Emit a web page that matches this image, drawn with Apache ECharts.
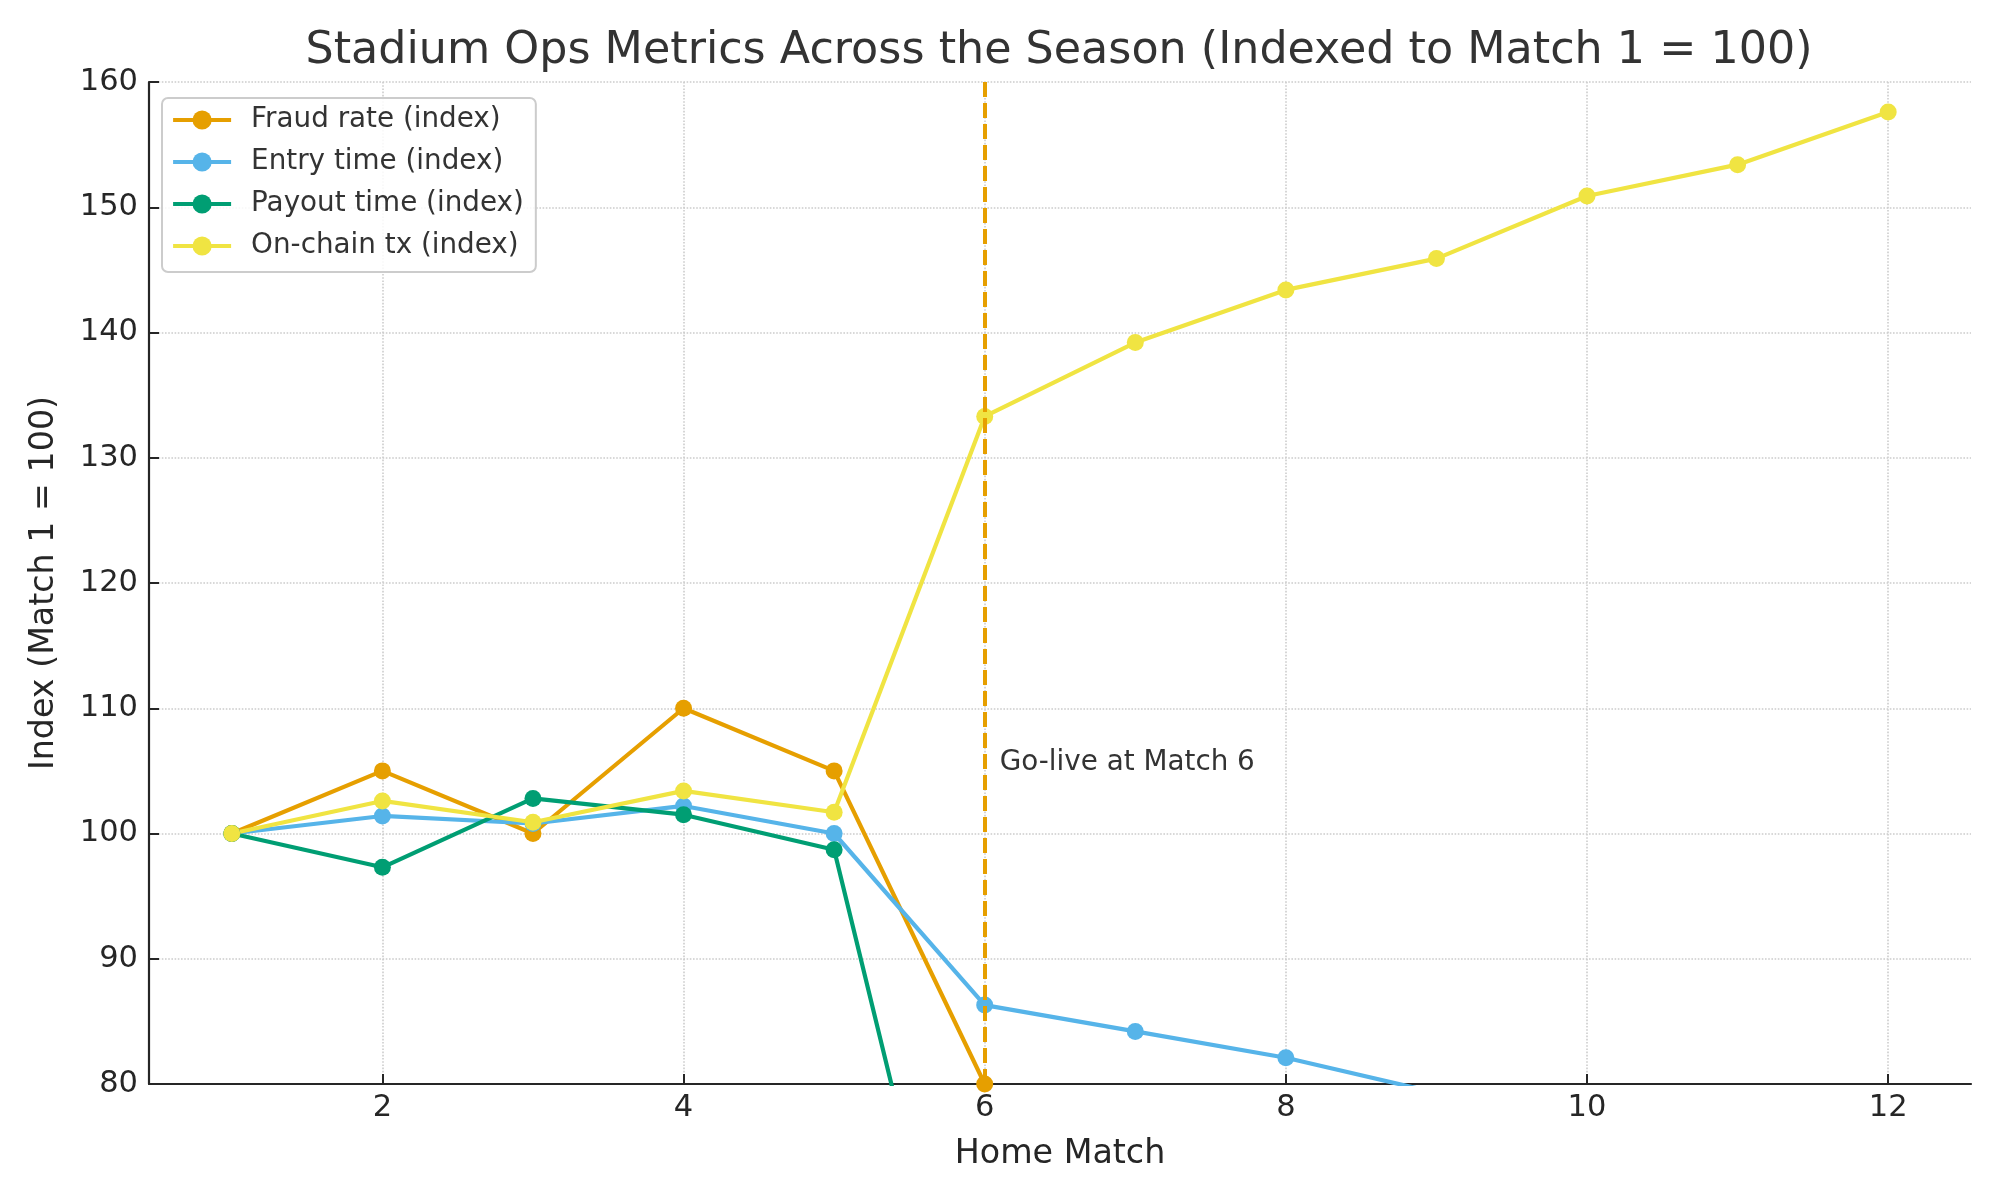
<!DOCTYPE html>
<html>
<head>
<meta charset="utf-8">
<script src="https://cdn.jsdelivr.net/npm/echarts@6/dist/echarts.min.js"></script>
<style>
  html, body { margin: 0; padding: 0; background: #fff; }
  #chart { width: 2000px; height: 1200px; }
</style>
</head>
<body>
<div id="chart"></div>
<script>
// home matches 1..12
const matches = [1, 2, 3, 4, 5, 6, 7, 8, 9, 10, 11, 12];
const xTicks = [2, 4, 6, 8, 10, 12];

// indexed values (match 1 = 100)
const fraudRate = [100, 105, 100, 110, 105, 80, 74, 70, 66, 63, 60, 57];
const entryTime = [100, 101.4, 100.8, 102.2, 100, 86.3, 84.2, 82.1, 79.3, 77.5, 76, 74.5];
const payoutTime = [100, 97.3, 102.8, 101.5, 98.7, 49.5, 47, 45.5, 44, 42.5, 41, 40];
const onchainTx = [100, 102.6, 100.9, 103.4, 101.7, 133.3, 139.2, 143.4, 145.9, 150.9, 153.4, 157.6];

const goLiveMatch = 6;

const font = "DejaVu Sans";
const chart = echarts.init(document.getElementById("chart"));

function pairs(values) {
  return matches.map((m, i) => [m, values[i]]);
}

function lineSeries(name, color, values) {
  return {
    name: name,
    type: "line",
    data: pairs(values),
    symbol: "circle",
    symbolSize: 17,
    clip: true,
    lineStyle: { color: color, width: 4.2 },
    itemStyle: { color: color },
    emphasis: { disabled: true }
  };
}

const series = [
  lineSeries("Fraud rate (index)", "#E69F00", fraudRate),
  lineSeries("Entry time (index)", "#56B4E9", entryTime),
  lineSeries("Payout time (index)", "#009E73", payoutTime),
  lineSeries("On-chain tx (index)", "#F0E442", onchainTx)
];

// go-live marker line and its note
series[0].markLine = {
  silent: true,
  symbol: "none",
  z: 10,
  label: { show: false },
  lineStyle: { color: "#E69F00", type: [15, 6], width: 4 },
  data: [{ xAxis: goLiveMatch }]
};
series[0].markPoint = {
  silent: true,
  symbol: "circle",
  symbolSize: 0,
  data: [{
    coord: [goLiveMatch + 0.1, 105],
    label: {
      show: true,
      position: "inside",
      formatter: "Go-live at Match 6",
      align: "left",
      verticalAlign: "bottom",
      offset: [0, 6],
      fontFamily: font,
      fontSize: 27.8,
      color: "#333333"
    }
  }]
};

const option = {
  animation: false,
  backgroundColor: "#ffffff",
  title: {
    text: "Stadium Ops Metrics Across the Season (Indexed to Match 1 = 100)",
    left: 1054,
    textAlign: "center",
    top: 24,
    textStyle: { fontFamily: font, fontSize: 44.4, fontWeight: "normal", color: "#333333" }
  },
  legend: {
    left: 162,
    top: 98,
    orient: "vertical",
    itemWidth: 58,
    itemHeight: 24,
    itemGap: 14,
    padding: [8, 12, 12, 9],
    backgroundColor: "rgba(255,255,255,0.85)",
    borderColor: "#cccccc",
    borderWidth: 2,
    borderRadius: 6,
    lineStyle: { width: 4.2 },
    textStyle: {
      fontFamily: font,
      fontSize: 27.8,
      lineHeight: 28,
      color: "#333333",
      padding: [0, 0, 0, 15]
    },
    data: series.map(s => s.name)
  },
  grid: { left: 149, right: 29, top: 82, bottom: 116, containLabel: false, outerBoundsMode: "none" },
  xAxis: {
    type: "value",
    min: 0.45,
    max: 12.55,
    name: "Home Match",
    nameLocation: "middle",
    nameGap: 54,
    nameTextStyle: { fontFamily: font, fontSize: 33.3, color: "#262626" },
    axisLine: { show: true, onZero: false, lineStyle: { color: "#262626", width: 2.2 } },
    axisTick: { show: true, inside: true, length: 10, customValues: xTicks, lineStyle: { color: "#262626", width: 2 } },
    axisLabel: { customValues: xTicks, margin: 9, fontFamily: font, fontSize: 30.5, color: "#262626" },
    splitLine: { show: true, lineStyle: { color: "#cccccc", type: "dotted", width: 1.6 } }
  },
  yAxis: {
    type: "value",
    min: 80,
    max: 160,
    interval: 10,
    name: "Index (Match 1 = 100)",
    nameLocation: "middle",
    nameRotate: 90,
    nameGap: 88,
    nameTextStyle: { fontFamily: font, fontSize: 33.3, color: "#262626" },
    axisLine: { show: true, onZero: false, lineStyle: { color: "#262626", width: 2.2 } },
    axisTick: { show: true, inside: true, length: 10, lineStyle: { color: "#262626", width: 2 } },
    axisLabel: { margin: 11, fontFamily: font, fontSize: 30.5, color: "#262626" },
    splitLine: { show: true, lineStyle: { color: "#cccccc", type: "dotted", width: 1.6 } }
  },
  series: series
};

chart.setOption(option);
</script>
</body>
</html>
